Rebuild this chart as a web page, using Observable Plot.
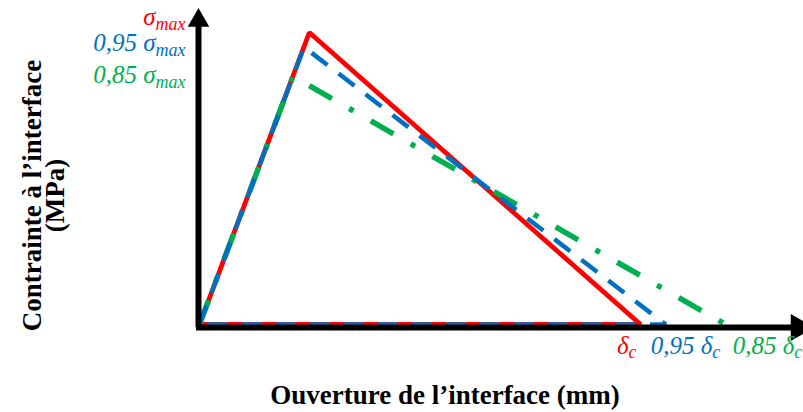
<!DOCTYPE html>
<html>
<head>
<meta charset="utf-8">
<script src="https://cdn.jsdelivr.net/npm/d3@7"></script>
<script src="https://cdn.jsdelivr.net/npm/@observablehq/plot@0.6"></script>
<style>
  body { margin: 0; background: #fff; }
  #chart svg { display: block; }
</style>
</head>
<body>
<div id="chart"></div>
<script>
// ---- data (opening normalised by δc, stress by σmax) ----
const seriesKeys    = ["ref", "s95", "s85"];
const peakStress    = [1, 0.95, 0.85];
const peakOpening   = [0.249, 0.237, 0.212];
const finalOpening  = [1, 1.057, 1.193];
const closedPath    = [true, true, false];
const stressLabels  = ["σ", "0,95 σ", "0,85 σ"];
const stressSub     = "max";
const openingLabels = ["δ", "0,95 δ", "0,85 δ"];
const openingSub    = "c";
const xTitle        = "Ouverture de l’interface (mm)";
const yTitleLines   = ["Contrainte à l’interface", "(MPa)"];
const xAxisEnd      = 1.358;
const yAxisEnd      = 1.041;

// ---- styles (kept apart from the data) ----
const colors   = ["#FF0000", "#0070C0", "#00B050"];
const widths   = [4.8, 4.5, 5.5];
const dashes   = [null, "20,14", "26,20,5,20"];
const stressDy = [-7, 4, 7];
const openDx   = [-4, -15, 7];
const openAnchor = ["end", "start", "start"];
const serif = "'Liberation Serif', 'Times New Roman', serif";
const labelSize = 25, subSize = 18;

function pathOf(i) {
  const pts = [
    {x: 0, y: 0},
    {x: peakOpening[i], y: peakStress[i]},
    {x: finalOpening[i], y: 0}
  ];
  if (closedPath[i]) pts.push({x: 0, y: 0});
  return pts;
}

const drawOrder = [0, 2, 1];
const curveMarks = drawOrder.map(i => Plot.line(pathOf(i), {
  x: "x", y: "y",
  stroke: colors[i], strokeWidth: widths[i],
  strokeDasharray: dashes[i] || undefined,
  strokeLinejoin: "miter", strokeLinecap: "butt"
}));

const stressTextMarks = seriesKeys.map((k, i) => Plot.text([k], {
  x: () => 0, y: () => peakStress[i], text: () => stressLabels[i],
  fill: colors[i], textAnchor: "end", lineAnchor: "bottom",
  dx: -14, dy: stressDy[i], fontSize: labelSize, fontStyle: "italic", fontFamily: serif
}));

const openTextMarks = seriesKeys.map((k, i) => Plot.text([k], {
  x: () => finalOpening[i], y: () => 0, text: () => openingLabels[i],
  fill: colors[i], textAnchor: openAnchor[i], lineAnchor: "bottom",
  dx: openDx[i], dy: 29, fontSize: labelSize, fontStyle: "italic", fontFamily: serif
}));

const chart = Plot.plot({
  width: 803, height: 412,
  marginLeft: 199, marginRight: 5, marginTop: 20, marginBottom: 88,
  x: {domain: [0, xAxisEnd], axis: null},
  y: {domain: [0, yAxisEnd], axis: null},
  style: {background: "white", fontFamily: serif, overflow: "visible"},
  marks: [
    ...curveMarks,
    // axes with arrow heads
    Plot.ruleY([0], {x1: 0, x2: xAxisEnd, dy: 3, stroke: "black", strokeWidth: 6, strokeLinecap: "square"}),
    Plot.ruleX([0], {y1: 0, y2: yAxisEnd, dx: -1, stroke: "black", strokeWidth: 6, strokeLinecap: "square"}),
    Plot.dot([0], {x: () => 0, y: () => yAxisEnd, symbol: "triangle", r: 8, fill: "black", dx: -1}),
    Plot.dot([0], {x: () => xAxisEnd, y: () => 0, symbol: "triangle", r: 10, fill: "black", rotate: 90, dy: 3}),
    ...stressTextMarks,
    ...openTextMarks,
    Plot.text([xTitle], {frameAnchor: "bottom", text: d => d, lineAnchor: "bottom",
      dx: -54, dy: 79, fontSize: 27, fontWeight: "bold", fill: "black", fontFamily: serif}),
    Plot.text([yTitleLines[0]], {frameAnchor: "left", text: d => d, rotate: -90,
      textAnchor: "middle", lineAnchor: "bottom", dx: -159, dy: 23,
      fontSize: 27, fontWeight: "bold", fill: "black", fontFamily: serif}),
    Plot.text([yTitleLines[1]], {frameAnchor: "left", text: d => d, rotate: -90,
      textAnchor: "middle", lineAnchor: "bottom", dx: -136, dy: 23,
      fontSize: 27, fontWeight: "bold", fill: "black", fontFamily: serif})
  ]
});

// subscripts as real tspans
d3.select(chart).selectAll("text").each(function () {
  const t = this.textContent;
  let sub = null;
  if (stressLabels.includes(t)) sub = stressSub;
  else if (openingLabels.includes(t)) sub = openingSub;
  if (sub) {
    d3.select(this).append("tspan").attr("font-size", subSize).attr("dy", "0.26em").text(sub);
  }
});

document.getElementById("chart").append(chart);
</script>
</body>
</html>
